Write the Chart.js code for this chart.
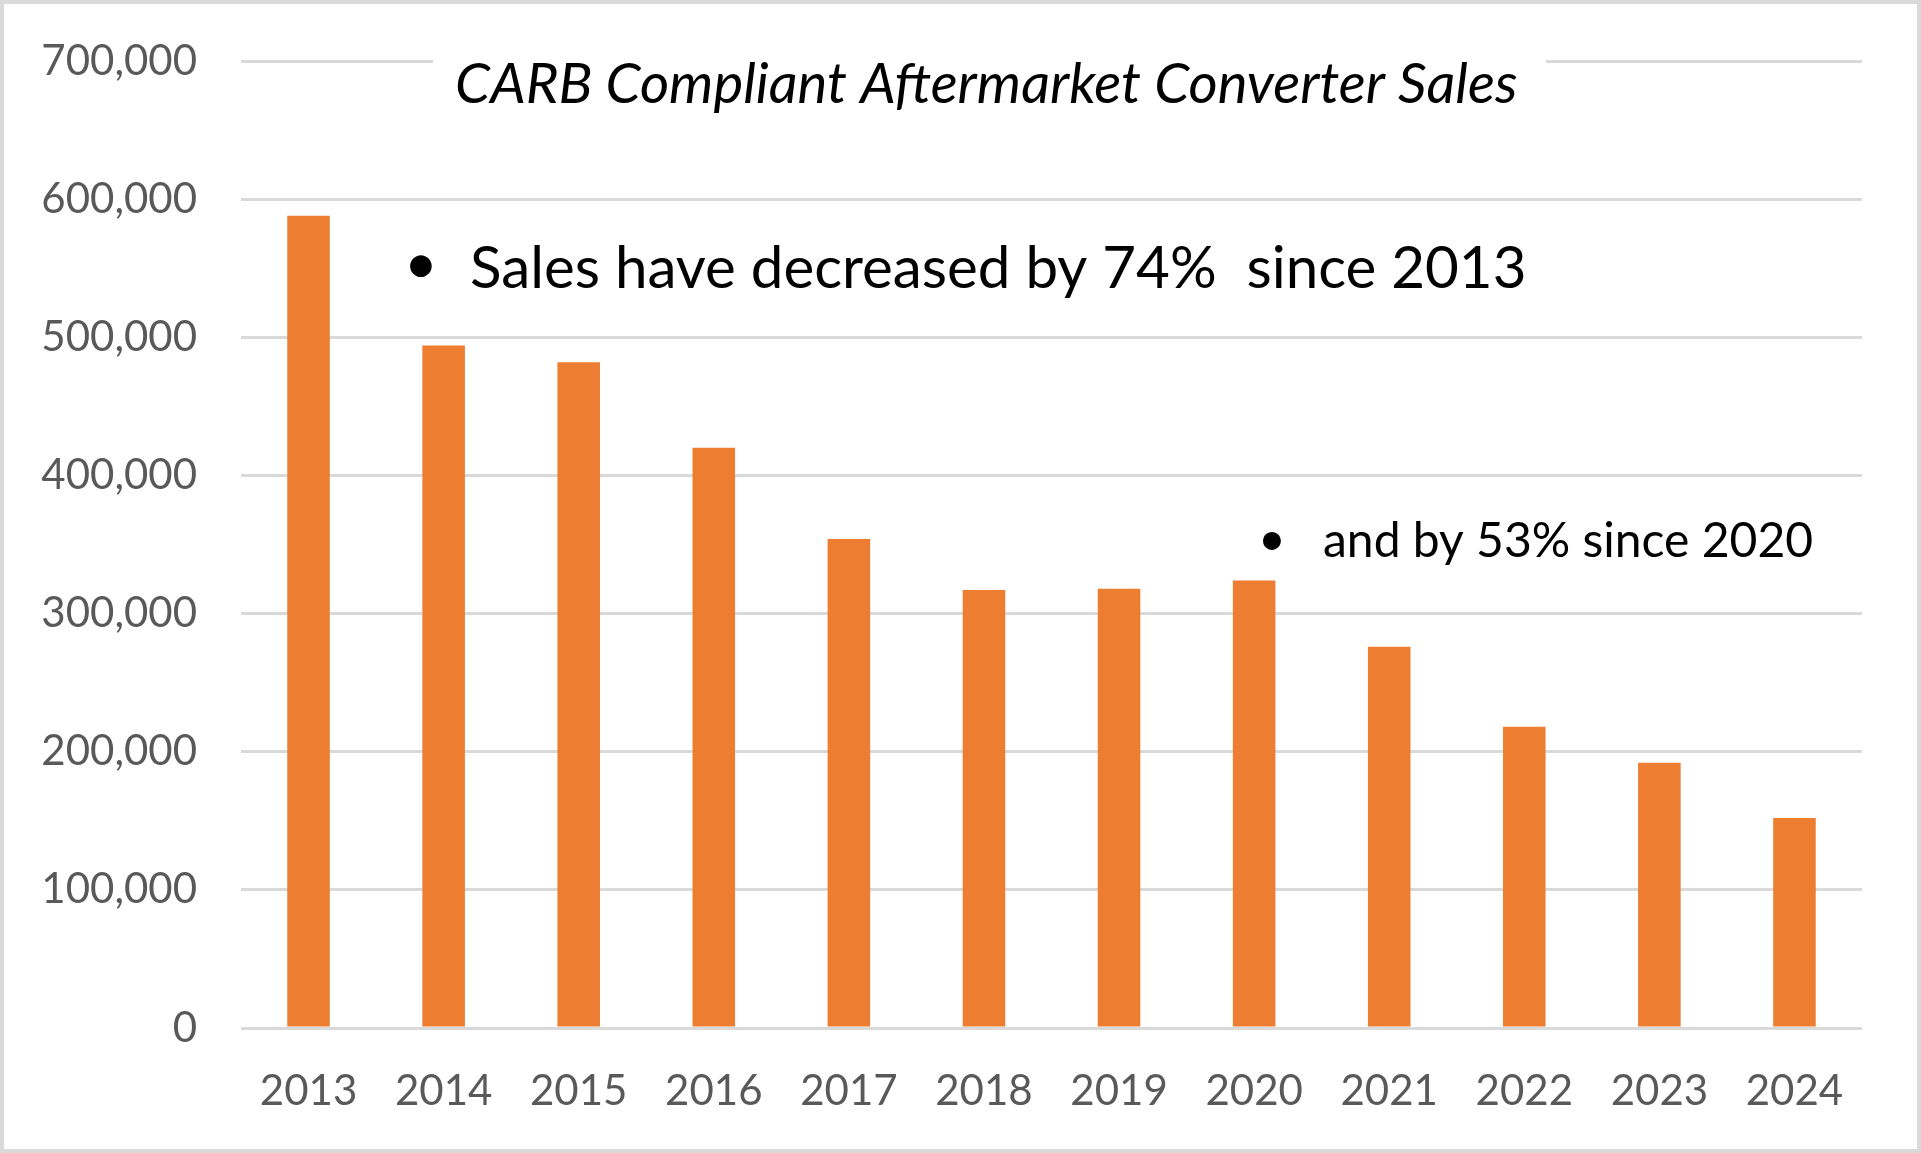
<!DOCTYPE html>
<html><head><meta charset="utf-8">
<script src="https://cdn.jsdelivr.net/npm/chart.js@4/dist/chart.umd.min.js"></script>
<style>
html,body{margin:0;padding:0;background:#fff;}
#wrap{position:relative;width:1921px;height:1153px;overflow:hidden;}
#frame{position:absolute;left:0;top:0;width:1921px;height:1153px;box-sizing:border-box;border:4px solid #dadada;pointer-events:none;}
canvas{position:absolute;left:0;top:0;}
</style></head><body>
<div id="wrap"><canvas id="c" width="1921" height="1153"></canvas><div id="frame"></div></div>
<script>
// ---- data ----
const years = ['2013','2014','2015','2016','2017','2018','2019','2020','2021','2022','2023','2024'];
const sales = [588000, 494000, 482000, 420000, 354000, 317000, 318000, 324000, 276000, 218000, 192000, 152000];
const yTickValues = [0, 100000, 200000, 300000, 400000, 500000, 600000, 700000];
const chartTitle = 'CARB Compliant Aftermarket Converter Sales';
const noteMain = 'Sales have decreased by 74%  since 2013';
const noteSecond = 'and by 53% since 2020';

const FONT = 'Lato, "Open Sans", sans-serif';

const overlayText = {
  id: 'overlayText',
  afterDraw(chart) {
    const ctx = chart.ctx;
    ctx.save();
    // white box behind title, hiding the top gridline
    ctx.fillStyle = '#ffffff';
    ctx.fillRect(433, 40, 1113, 45);
    ctx.fillStyle = '#000000';
    ctx.textBaseline = 'alphabetic';
    // title
    ctx.font = 'italic 56.3px ' + FONT;
    ctx.textAlign = 'left';
    ctx.fillText(chartTitle, 455, 103);
    // note 1
    ctx.font = '58.3px ' + FONT;
    ctx.textAlign = 'center';
    ctx.fillText('\u2022', 421, 284);
    ctx.textAlign = 'left';
    ctx.fillText(noteMain, 470, 288);
    // note 2
    ctx.font = '48px ' + FONT;
    ctx.textAlign = 'center';
    ctx.fillText('\u2022', 1272, 555);
    ctx.textAlign = 'left';
    ctx.fillText(noteSecond, 1323, 557);
    ctx.restore();
  }
};

new Chart(document.getElementById('c'), {
  type: 'bar',
  data: {
    labels: years,
    datasets: [{
      data: sales,
      backgroundColor: '#ED7D31',
      borderWidth: 0,
      barPercentage: 1,
      categoryPercentage: 0.315
    }]
  },
  options: {
    responsive: false,
    devicePixelRatio: 1,
    animation: false,
    events: [],
    layout: { padding: { top: 61, right: 59, left: 0, bottom: 0 } },
    plugins: { legend: { display: false }, title: { display: false }, tooltip: { enabled: false } },
    scales: {
      y: {
        min: 0, max: 700000,
        afterBuildTicks: s => { s.ticks = yTickValues.map(v => ({ value: v })); },
        afterFit: s => { s.width = 241; s.paddingTop = 0; s.paddingBottom = 0; },
        border: { display: false },
        grid: { color: '#d9d9d9', lineWidth: 3, drawTicks: false },
        ticks: {
          padding: 44,
          color: '#595959',
          font: { family: FONT, size: 42 },
          callback: v => Number(v).toLocaleString('en-US')
        }
      },
      x: {
        afterFit: s => { s.height = 125; s.paddingLeft = 0; s.paddingRight = 0; },
        border: { display: false },
        grid: { display: false, drawTicks: false },
        ticks: {
          padding: 38,
          color: '#595959',
          font: { family: FONT, size: 42 }
        }
      }
    }
  },
  plugins: [overlayText]
});
</script>
</body></html>
